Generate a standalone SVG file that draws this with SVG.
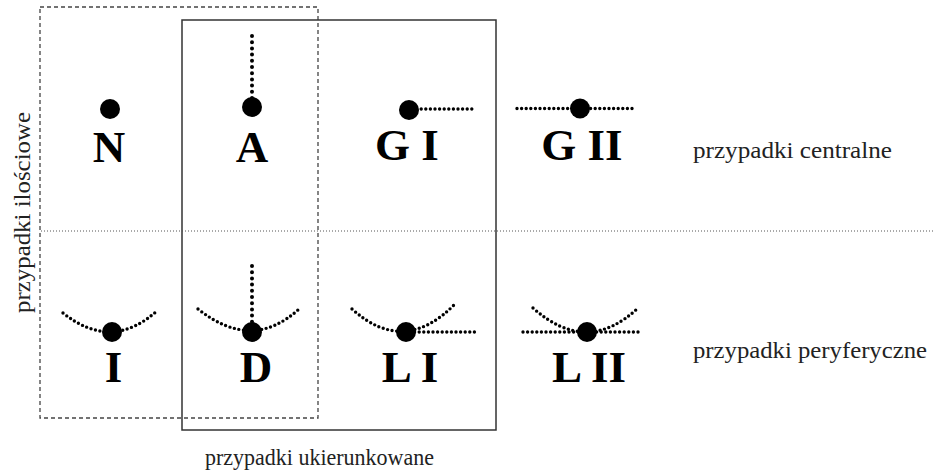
<svg xmlns="http://www.w3.org/2000/svg" width="939" height="474" viewBox="0 0 939 474">
  <style>
    .frame-solid { fill: none; stroke: #333; stroke-width: 1.5; }
    .frame-dash { fill: none; stroke: #444; stroke-width: 1.3; stroke-dasharray: 4 3; }
    .divider { fill: none; stroke: #555; stroke-width: 1; stroke-dasharray: 1 2; }
    .caption { font-family: "Liberation Serif", "DejaVu Serif", serif; font-size: 24px; fill: #222; }
    .sym { font-family: "Liberation Serif", "DejaVu Serif", serif; font-size: 45px; font-weight: bold; fill: #000; text-anchor: middle; }
    .pt { fill: #000; }
    .trail { fill: none; stroke: #000; stroke-width: 3.4; stroke-linecap: round; stroke-dasharray: 0 4.6; }
    .trail-v { fill: none; stroke: #000; stroke-width: 4; stroke-linecap: round; stroke-dasharray: 0 6.2; }
  </style>

  <!-- frames and divider -->
  <g id="frames">
    <rect class="frame-dash" x="40" y="7" width="278" height="411"/>
    <rect class="frame-solid" x="182" y="20" width="314" height="410"/>
    <line class="divider" x1="41" y1="231" x2="933" y2="231"/>
  </g>

  <!-- group captions -->
  <g id="captions">
    <text class="caption" x="693" y="158" textLength="199" lengthAdjust="spacingAndGlyphs">przypadki centralne</text>
    <text class="caption" x="693" y="358" textLength="234" lengthAdjust="spacingAndGlyphs">przypadki peryferyczne</text>
    <text class="caption" x="205" y="465" textLength="229" lengthAdjust="spacingAndGlyphs">przypadki ukierunkowane</text>
    <text class="caption" transform="translate(30,212.5) rotate(-90)" text-anchor="middle" textLength="201" lengthAdjust="spacingAndGlyphs">przypadki ilościowe</text>
  </g>

  <!-- central cases -->
  <g id="node-N">
    <circle class="pt" cx="110" cy="109" r="10"/>
    <text class="sym" x="109" y="162">N</text>
  </g>
  <g id="node-A">
    <line class="trail-v" x1="252" y1="36" x2="252" y2="100"/>
    <circle class="pt" cx="252" cy="107" r="10"/>
    <text class="sym" x="252" y="162">A</text>
  </g>
  <g id="node-GI">
    <line class="trail" x1="412" y1="109" x2="474" y2="109"/>
    <circle class="pt" cx="409" cy="110" r="10"/>
    <text class="sym" x="407" y="160">G I</text>
  </g>
  <g id="node-GII">
    <line class="trail" x1="517" y1="108.5" x2="634" y2="108.5"/>
    <circle class="pt" cx="580" cy="108.5" r="10"/>
    <text class="sym" x="582" y="160">G II</text>
  </g>

  <!-- peripheral cases -->
  <g id="node-I">
    <path class="trail" d="M63,313 Q112,352 158,310"/>
    <circle class="pt" cx="112" cy="332" r="10"/>
    <text class="sym" x="113.5" y="382">I</text>
  </g>
  <g id="node-D">
    <path class="trail" d="M198,309 Q252,352 299,309"/>
    <line class="trail-v" x1="252" y1="266" x2="252" y2="324"/>
    <circle class="pt" cx="252" cy="332" r="10"/>
    <text class="sym" x="256" y="382">D</text>
  </g>
  <g id="node-LI">
    <path class="trail" d="M352,309 Q404,356 455,304"/>
    <line class="trail" x1="410" y1="332" x2="475" y2="332"/>
    <circle class="pt" cx="406" cy="332" r="10"/>
    <text class="sym" x="410" y="382">L I</text>
  </g>
  <g id="node-LII">
    <path class="trail" d="M533,308 Q587,356 638,308"/>
    <line class="trail" x1="523" y1="332" x2="641" y2="332"/>
    <circle class="pt" cx="587" cy="332" r="10"/>
    <text class="sym" x="589" y="382">L II</text>
  </g>
</svg>
